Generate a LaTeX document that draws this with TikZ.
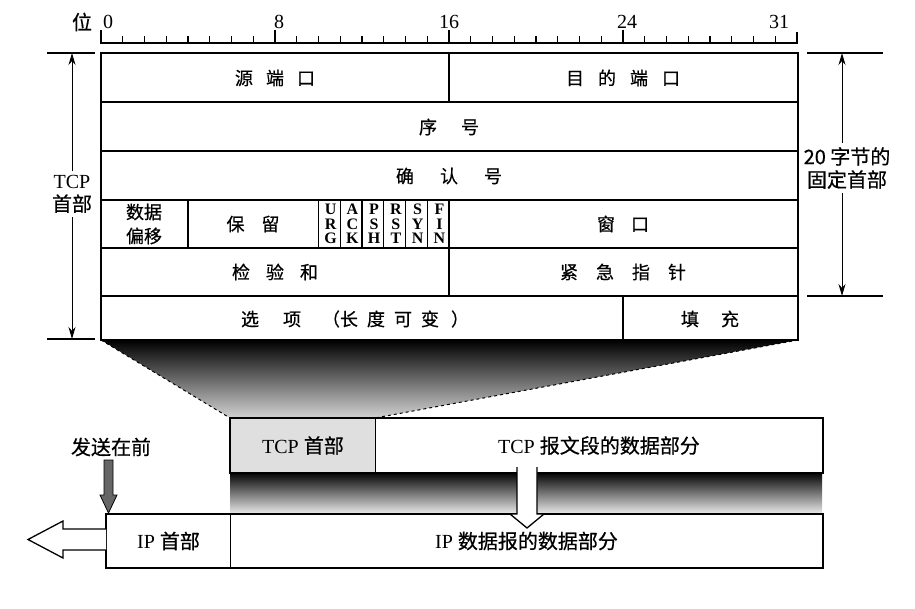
\documentclass[tikz,border=0pt]{standalone}
\usepackage{fontspec}
\setmainfont{Liberation Serif}
\newfontfamily\cjk[FakeBold=0.6]{Noto Sans CJK SC}
\usepackage{tikz}
\usetikzlibrary{arrows.meta}
\newcommand\zgap[1]{\hspace{#1pt}}

\begin{document}
\begin{tikzpicture}[x = 1pt, y = -1pt, font = \fontsize{20}{23}\selectfont,
		zh/.style = {font = \cjk\fontsize{18}{24}\selectfont, inner sep = 0pt, align = center},
		flag/.style = {font = \bfseries\fontsize{16}{14.5}\selectfont, inner sep = 0pt, align = center},
		seg/.style = {draw, line width = 1pt, inner sep = 0pt},
		dim/.style = {-{Stealth[length = 12pt, width = 7pt]}, line width = 1pt}]
	\useasboundingbox (0,0) rectangle (915,609);

	\begin{scope}[line width = 1.2pt]
		\draw (101,30) -- (101,43) -- (797,43) -- (797,32);
		\foreach \b in {1,...,31} \draw ({101+21.75*\b},43) -- ++(0,-7);
		\foreach \b in {8,16,24} \draw ({101+21.75*\b},43) -- ++(0,-13);
	\end{scope}
	\begin{scope}
		\node (pos) at (82,22) {\cjk 位};
		\node (b0) at (108,22) {0};
		\node (b8) at (279,22) {8};
		\node (b16) at (449,22) {16};
		\node (b24) at (627,22) {24};
		\node (b31) at (779,22) {31};
	\end{scope}

	\begin{scope}[line width = 1.4pt]
		\draw (101,102) -- (798,102);
		\draw (101,151) -- (798,151);
		\draw (101,200) -- (798,200);
		\draw (101,248) -- (798,248);
		\draw (101,296) -- (798,296);
		\draw (449,53) -- (449,102);
		\draw (449,200) -- (449,296);
		\draw (188,200) -- (188,248);
		\foreach \b in {10,...,15} \draw ({101+21.75*\b},200) -- ({101+21.75*\b},248);
		\draw (623,296) -- (623,340);
	\end{scope}
	\draw [line width = 2.6pt] (101,53) rectangle (798,340);

	\begin{scope}
		\node [zh] (srcport) at (275,78) {源\zgap{13}端\zgap{13}口};
		\node [zh] (dstport) at (623,78) {目\zgap{14}的\zgap{14}端\zgap{14}口};
		\node [zh] (seqnum) at (449,127) {序\zgap{24}号};
		\node [zh] (acknum) at (449,176) {确\zgap{26}认\zgap{26}号};
		\node [zh] (offset) at (144,224) {数据\\偏移};
		\node [zh] (reserved) at (253,224) {保\zgap{17}留};
		\node [zh] (window) at (623,224) {窗\zgap{16}口};
		\node [zh] (checksum) at (275,272) {检\zgap{16}验\zgap{16}和};
		\node [zh] (urgptr) at (623,272) {紧\zgap{18}急\zgap{18}指\zgap{18}针};
		\node [zh] (options) at (355,319) {选\zgap{24}项\zgap{21}（长\zgap{9}度\zgap{9}可\zgap{9}变\zgap{12}）};
		\node [zh] (padding) at (710,319) {填\zgap{22}充};
	\end{scope}
	\begin{scope}
		\node [flag] (urg) at (330.6,224) {U\\R\\G};
		\node [flag] (ack) at (352.4,224) {A\\C\\K};
		\node [flag] (psh) at (374.1,224) {P\\S\\H};
		\node [flag] (rst) at (395.9,224) {R\\S\\T};
		\node [flag] (syn) at (417.6,224) {S\\Y\\N};
		\node [flag] (fin) at (439.4,224) {F\\I\\N};
	\end{scope}

	\begin{scope}
		\coordinate (ltop) at (72,53);
		\coordinate (lbot) at (72,339);
		\draw [line width = 1.2pt] (47,53) -- (95,53);
		\draw [line width = 1.2pt] (47,339) -- (95,339);
		\node [align = center, inner sep = 4pt] (tcplen) at (72,194) {TCP\\{\cjk 首部}};
		\draw [dim] (tcplen) -- (ltop);
		\draw [dim] (tcplen) -- (lbot);
	\end{scope}
	\begin{scope}
		\coordinate (rtop) at (842,53);
		\coordinate (rbot) at (842,296);
		\draw [line width = 1.2pt] (807,53) -- (883,53);
		\draw [line width = 1.2pt] (807,296) -- (883,296);
		\node [align = center, inner sep = 4pt, font = \cjk\fontsize{20}{23}\selectfont] (fixlen) at (847,168) {20 字节的\\固定首部};
		\draw [dim] (fixlen.north -| rtop) -- (rtop);
		\draw [dim] (fixlen.south -| rbot) -- (rbot);
	\end{scope}

	\shade [top color = black, bottom color = gray!35] (101,340) -- (798,340) -- (375,418) -- (230,418) -- cycle;
	\shade [top color = black, bottom color = gray!15] (230,472) rectangle (822,514);

	\begin{scope}
		\node [seg, fill = gray!25, minimum width = 145, minimum height = 54, anchor = north west] (tcph) at (230,418) {TCP {\cjk 首部}};
		\node [seg, fill = white, minimum width = 447, minimum height = 54, anchor = north west] (tcpd) at (375,418) {TCP {\cjk 报文段的数据部分}};
		\draw [line width = 2.6pt] (tcph.north west) rectangle (tcpd.south east);
		\node [seg, fill = white, minimum width = 124, minimum height = 53, anchor = north west] (iph) at (106,514) {IP {\cjk 首部}};
		\node [seg, fill = white, minimum width = 592, minimum height = 53, anchor = north west] (ipd) at (230,514) {IP {\cjk 数据报的数据部分}};
		\draw [line width = 2.6pt] (iph.north west) rectangle (ipd.south east);
	\end{scope}
	\draw [dashed, line width = 1pt] (101,340) -- (tcph.north west);
	\draw [dashed, line width = 1pt] (798,340) -- (tcpd.north west);

	\draw [line width = 1.3pt, fill = white] (517,467) -- (517,514) -- (510,514) -- (527,528) -- (544,514) -- (537,514) -- (537,467);
	\draw [line width = 1.3pt, fill = white] (iph.west |- 0,529) -- (63,529) -- (63,521) -- (28,539.5) -- (63,558) -- (63,550) -- (iph.west |- 0,550);
	\node (sendfirst) at (111,447) {\cjk 发送在前};
	\draw [fill = black!60, line width = 0.8pt] (104,460) -- (104,495) -- (100,495) -- (108.5,513) -- (117,495) -- (113,495) -- (113,460) -- cycle;
\end{tikzpicture}
\end{document}
